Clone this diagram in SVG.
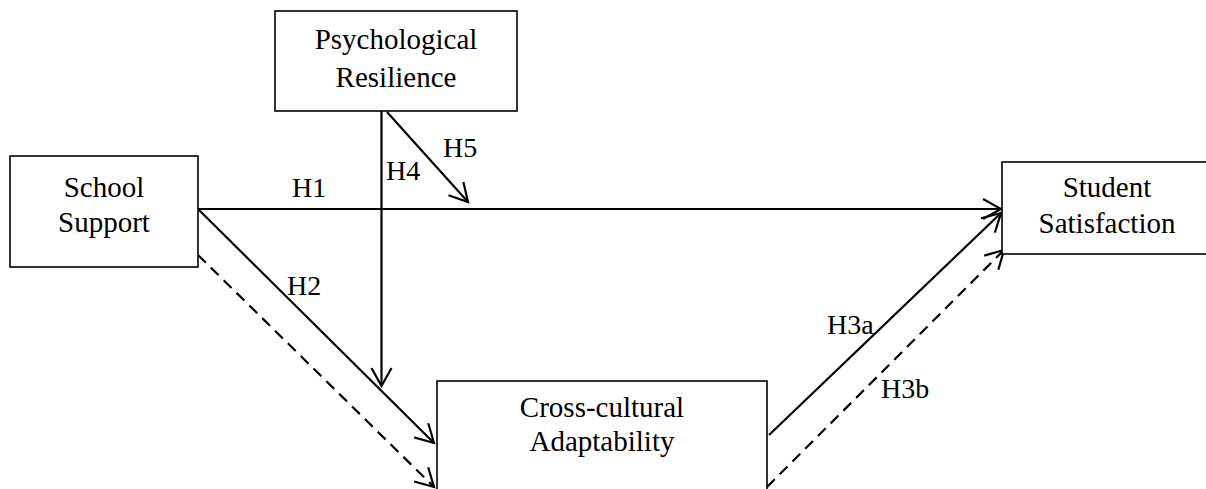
<svg xmlns="http://www.w3.org/2000/svg" width="1206" height="489" viewBox="0 0 1206 489">
<style>
.box{fill:#fff;stroke:#000;stroke-width:1.6}
.lbl{font-family:'Liberation Serif','Times New Roman','DejaVu Serif',serif;font-size:29px;fill:#000;text-anchor:middle}
.hl{font-family:'Liberation Serif','Times New Roman','DejaVu Serif',serif;font-size:28px;fill:#000}
.ln{fill:none;stroke:#000;stroke-width:2.2}
.dash{stroke-dasharray:11 7}
</style>
<defs>
<marker id="arr" viewBox="0 0 24 24" refX="21" refY="12" markerWidth="24" markerHeight="24" markerUnits="userSpaceOnUse" orient="auto">
<path d="M3,2 L21,12 L3,22" fill="none" stroke="#000" stroke-width="2.2"/>
</marker>
</defs>
<rect width="1206" height="489" fill="#fff"/>
<g id="connectors">
<line class="ln" x1="198" y1="209" x2="1001" y2="209" marker-end="url(#arr)"/>
<line class="ln" x1="198" y1="209" x2="434" y2="443" marker-end="url(#arr)"/>
<line class="ln dash" x1="198" y1="255" x2="434" y2="487" marker-end="url(#arr)"/>
<line class="ln" x1="381.5" y1="111" x2="381.5" y2="386" marker-end="url(#arr)"/>
<line class="ln" x1="387" y1="112" x2="468" y2="202" marker-end="url(#arr)"/>
<line class="ln" x1="769" y1="435" x2="1001" y2="213" marker-end="url(#arr)"/>
<line class="ln dash" x1="767" y1="487" x2="1004" y2="250" marker-end="url(#arr)"/>
<text class="hl" x="292" y="197">H1</text>
<text class="hl" x="287" y="295">H2</text>
<text class="hl" x="386" y="180">H4</text>
<text class="hl" x="443" y="157">H5</text>
<text class="hl" x="827" y="334">H3a</text>
<text class="hl" x="881" y="398">H3b</text>
</g>
<g id="psychological-resilience">
<rect class="box" x="275" y="11" width="242" height="100"/>
<text class="lbl" x="396" y="49">Psychological</text>
<text class="lbl" x="396" y="87">Resilience</text>
</g>
<g id="school-support">
<rect class="box" x="10" y="156" width="188" height="111"/>
<text class="lbl" x="104" y="197">School</text>
<text class="lbl" x="104" y="232">Support</text>
</g>
<g id="student-satisfaction">
<rect class="box" x="1002" y="162" width="214" height="92"/>
<text class="lbl" x="1107" y="197">Student</text>
<text class="lbl" x="1107" y="233">Satisfaction</text>
</g>
<g id="cross-cultural-adaptability">
<rect class="box" x="437" y="381" width="330" height="120"/>
<text class="lbl" x="602" y="417">Cross-cultural</text>
<text class="lbl" x="602" y="451">Adaptability</text>
</g>
</svg>
